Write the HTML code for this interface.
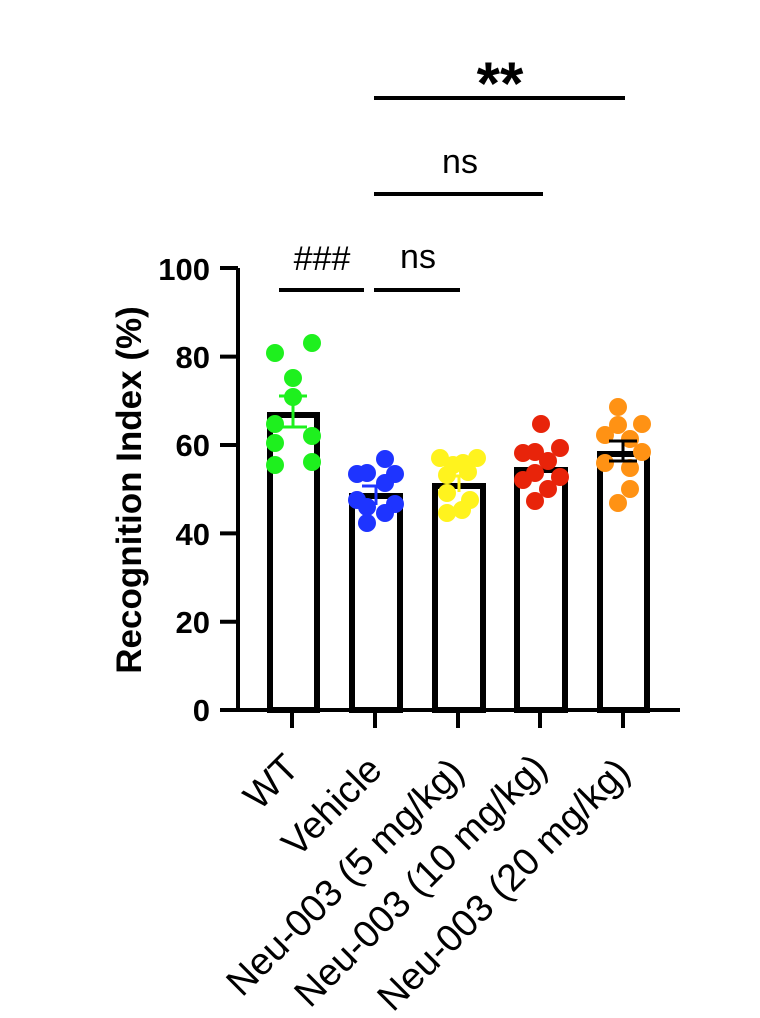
<!DOCTYPE html>
<html><head><meta charset="utf-8"><style>html,body{margin:0;padding:0;background:#fff}svg{display:block}</style></head>
<body>
<svg width="760" height="1018" viewBox="0 0 760 1018" xmlns="http://www.w3.org/2000/svg" font-family="Liberation Sans, Arial, sans-serif">
<g fill="#fff" stroke="#000" stroke-width="6">
<rect x="270" y="415" width="47" height="295"/>
<rect x="352" y="496" width="48" height="214"/>
<rect x="435" y="486" width="48" height="224"/>
<rect x="517" y="470" width="48" height="240"/>
<rect x="600" y="454" width="47" height="256"/>
</g>
<g fill="#1ef01e">
<circle cx="275" cy="353" r="9"/><circle cx="312" cy="343" r="9"/><circle cx="293" cy="378" r="9"/><circle cx="293" cy="397" r="9"/><circle cx="275" cy="424" r="9"/><circle cx="312" cy="436" r="9"/><circle cx="275" cy="443" r="9"/><circle cx="275" cy="465" r="9"/><circle cx="312" cy="462" r="9"/>
</g>
<g stroke="#1ef01e" stroke-width="3"><line x1="293" y1="396" x2="293" y2="427"/><line x1="279" y1="396" x2="307" y2="396"/><line x1="279" y1="427" x2="307" y2="427"/></g>
<g fill="#1e34ff">
<circle cx="385" cy="459" r="9"/><circle cx="357" cy="474" r="9"/><circle cx="367" cy="473" r="9"/><circle cx="395" cy="474" r="9"/><circle cx="385" cy="483" r="9"/><circle cx="357" cy="500" r="9"/><circle cx="367" cy="507" r="9"/><circle cx="395" cy="504" r="9"/><circle cx="385" cy="513" r="9"/><circle cx="367" cy="523" r="9"/>
</g>
<g stroke="#1e34ff" stroke-width="3"><line x1="376" y1="486" x2="376" y2="505"/><line x1="362" y1="486" x2="390" y2="486"/></g>
<g fill="#fff31e">
<circle cx="440" cy="458" r="9"/><circle cx="477" cy="458" r="9"/><circle cx="453" cy="465" r="9"/><circle cx="463" cy="463" r="9"/><circle cx="447" cy="475" r="9"/><circle cx="468" cy="472" r="9"/><circle cx="447" cy="493" r="9"/><circle cx="470" cy="500" r="9"/><circle cx="462" cy="510" r="9"/><circle cx="447" cy="513" r="9"/>
</g>
<g stroke="#fff31e" stroke-width="3"><line x1="459" y1="476" x2="459" y2="492"/><line x1="445" y1="476" x2="473" y2="476"/></g>
<g fill="#e8240a">
<circle cx="541" cy="424" r="9"/><circle cx="523" cy="453" r="9"/><circle cx="535" cy="452" r="9"/><circle cx="560" cy="448" r="9"/><circle cx="548" cy="461" r="9"/><circle cx="535" cy="473" r="9"/><circle cx="523" cy="480" r="9"/><circle cx="560" cy="477" r="9"/><circle cx="548" cy="489" r="9"/><circle cx="535" cy="501" r="9"/>
</g>
<g fill="#ff9214">
<circle cx="618" cy="407" r="9"/><circle cx="618" cy="425" r="9"/><circle cx="642" cy="424" r="9"/><circle cx="605" cy="435" r="9"/><circle cx="630" cy="439" r="9"/><circle cx="642" cy="452" r="9"/><circle cx="605" cy="463" r="9"/><circle cx="630" cy="468" r="9"/><circle cx="630" cy="489" r="9"/><circle cx="618" cy="503" r="9"/>
</g>
<g stroke="#000" stroke-width="3"><line x1="623" y1="441" x2="623" y2="461"/><line x1="609" y1="441" x2="637" y2="441"/><line x1="609" y1="461" x2="637" y2="461"/></g>
<g stroke="#000" stroke-width="4">
<line x1="238" y1="268" x2="238" y2="712"/>
<line x1="236" y1="710" x2="680" y2="710"/>
<line x1="220" y1="268" x2="238" y2="268"/><line x1="220" y1="356.6" x2="238" y2="356.6"/><line x1="220" y1="445" x2="238" y2="445"/><line x1="220" y1="533.4" x2="238" y2="533.4"/><line x1="220" y1="621.8" x2="238" y2="621.8"/><line x1="220" y1="710" x2="238" y2="710"/>
<line x1="292" y1="710" x2="292" y2="728"/><line x1="375" y1="710" x2="375" y2="728"/><line x1="458" y1="710" x2="458" y2="728"/><line x1="540" y1="710" x2="540" y2="728"/><line x1="623" y1="710" x2="623" y2="728"/>
</g>
<g font-size="31" font-weight="bold" text-anchor="end">
<text x="210" y="280">100</text><text x="210" y="368">80</text><text x="210" y="456">60</text><text x="210" y="545">40</text><text x="210" y="633">20</text><text x="210" y="721">0</text>
</g>
<text transform="translate(141,490) rotate(-90)" text-anchor="middle" font-size="35" font-weight="bold">Recognition Index (%)</text>
<g font-size="38" text-anchor="end">
<text transform="translate(301,770) rotate(-45)">WT</text>
<text transform="translate(384,772) rotate(-45)">Vehicle</text>
<text transform="translate(466,774) rotate(-45)">Neu-003 (5 mg/kg)</text>
<text transform="translate(549,770) rotate(-45)">Neu-003 (10 mg/kg)</text>
<text transform="translate(632,774) rotate(-45)">Neu-003 (20 mg/kg)</text>
</g>
<g stroke="#000" stroke-width="4">
<line x1="279" y1="290" x2="364" y2="290"/><line x1="374" y1="290" x2="460" y2="290"/>
<line x1="374" y1="194" x2="543" y2="194"/><line x1="374" y1="98" x2="625" y2="98"/>
</g>
<g font-size="34" text-anchor="middle">
<text x="322" y="270">###</text><text x="418" y="268">ns</text><text x="460" y="173">ns</text>
</g>
<text x="500" y="104" font-size="60" font-weight="bold" text-anchor="middle">**</text>
</svg>
</body></html>
